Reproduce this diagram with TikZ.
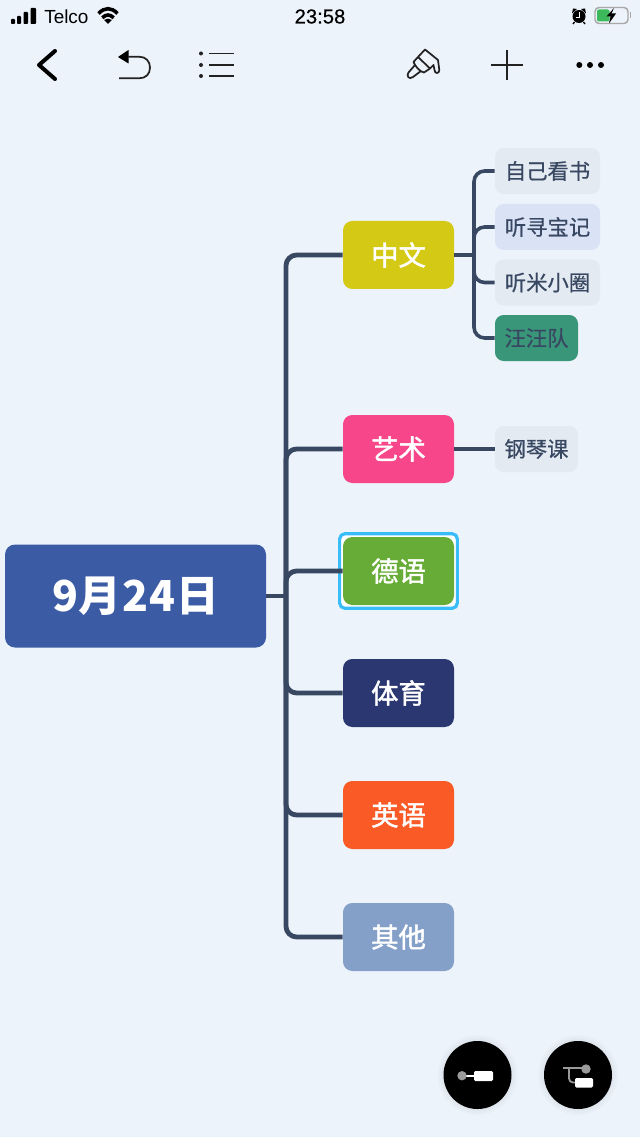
\documentclass[tikz,border=0pt]{standalone}
\usepackage{fontspec}
\setmainfont{Liberation Sans}
\newfontfamily\cjk{Noto Sans CJK SC}
\newfontfamily\cjkroot[LetterSpace=2]{Noto Sans CJK SC}
\newfontfamily\cjkmid[FakeBold=1.6]{Noto Sans CJK SC}
\newfontfamily\cjksub[FakeBold=0.6]{Noto Sans CJK SC}
\newfontfamily\timefont[FakeBold=0.4]{Liberation Sans}
\definecolor{bgc}{HTML}{EDF3FA}
\definecolor{linec}{HTML}{384862}
\definecolor{rootc}{HTML}{3B5BA5}
\definecolor{cnc}{HTML}{D4C914}
\definecolor{artc}{HTML}{F7478A}
\definecolor{dec}{HTML}{68AC38}
\definecolor{pec}{HTML}{2B3770}
\definecolor{enc}{HTML}{FA5A25}
\definecolor{otc}{HTML}{84A0C9}
\definecolor{subc}{HTML}{E4EAF1}
\definecolor{subb}{HTML}{DAE2F6}
\definecolor{teamc}{HTML}{3A9678}
\definecolor{selc}{HTML}{38BDF8}
\definecolor{iconc}{HTML}{222222}
\definecolor{btng}{HTML}{9A9A9A}
\definecolor{batg}{HTML}{3CB95A}
\definecolor{bato}{HTML}{A8A8A8}
\tikzset{
  px/.style={x=0.75pt,y=-0.75pt},
  rootbox/.style={rectangle,rounded corners=7.5pt,fill=rootc,text=white,minimum width=195.75pt,minimum height=77.25pt,inner sep=0pt,font=\cjkroot\bfseries\fontsize{32}{36}\selectfont},
  mainbox/.style={rectangle,rounded corners=7pt,text=white,minimum width=83.25pt,minimum height=51pt,inner sep=0pt,font=\cjkmid\fontsize{20.5}{24}\selectfont},
  subbox/.style={rectangle,rounded corners=6.5pt,fill=subc,text=linec,minimum height=34.5pt,inner sep=0pt,font=\cjksub\fontsize{16}{20}\selectfont},
  wide/.style={minimum width=78.75pt},
  narrow/.style={minimum width=62.25pt},
  selbox/.style={rectangle,rounded corners=4pt,draw=selc,line width=2.4pt,fill=white,minimum width=88.3pt,minimum height=56pt,inner sep=0pt},
  trunk/.style={draw=linec,line width=3.6pt,rounded corners=8pt},
  branch/.style={draw=linec,line width=2.7pt,rounded corners=8pt},
  iconline/.style={draw=iconc,line width=1.3pt},
  btn/.style={circle,fill=black,minimum size=51pt,inner sep=0pt},
  halo/.style={fill=black,fill opacity=0.015}
}
\begin{document}
\begin{tikzpicture}[px]
\useasboundingbox (0,0) rectangle (640,1137);
\fill[bgc] (0,0) rectangle (640,1137);

% status bar
\fill[black,rounded corners=0.6pt] (11,19) rectangle (15,24);
\fill[black,rounded corners=0.6pt] (17,16) rectangle (21,24);
\fill[black,rounded corners=0.6pt] (23.5,12) rectangle (28,24);
\fill[black,rounded corners=0.6pt] (30.5,8) rectangle (36,24);
\node[anchor=west,inner sep=0pt,font=\fontsize{14.2}{16}\selectfont,text=black] (telco) at (44,17) {Telco};
\draw[black,line width=2.7pt] (98.5,13.5) .. controls (104.8,7.1) and (111.2,7.1) .. (117.5,13.5);
\draw[black,line width=2.7pt] (102.3,17.8) .. controls (106.1,14.1) and (109.9,14.1) .. (113.7,17.8);
\fill[black] (108,24) -- (104,20) .. controls (106.5,18.2) and (109.5,18.2) .. (112,20) -- cycle;
\node[inner sep=0pt,font=\timefont\fontsize{15.2}{17}\selectfont,text=black] (clock) at (320,16.5) {23:58};

% alarm
\fill[black] (579,16.5) circle[radius=6.5];
\fill[black] (573,8.5) -- (577,9) -- (572,13.5) -- cycle;
\fill[black] (585,8.5) -- (581,9) -- (586,13.5) -- cycle;
\draw[black,line width=1pt] (574.5,22) -- (573,24);
\draw[black,line width=1pt] (583.5,22) -- (585,24);
\draw[white,line width=0.7pt] (579,12.5) -- (579,17) -- (575.5,17);

% battery
\draw[draw=bato,line width=1.1pt,rounded corners=3pt] (595,7.5) rectangle (628,23.5);
\fill[batg,rounded corners=1.5pt] (597,9.5) rectangle (609.5,21.5);
\fill[bato] (629.5,12.5) rectangle (631,18.5);
\fill[black] (614,8) -- (606.5,16.5) -- (610.5,16.5) -- (609,23.5) -- (616,13.5) -- (611.5,13.5) -- cycle;

% toolbar
\draw[black,line width=3pt,line cap=round,line join=round] (55,51) -- (39,65) -- (55,79);
\fill[black] (118,57) -- (128.5,50) -- (128.5,63.5) -- cycle;
\draw[iconc,line width=1.3pt] (128,56.7) -- (139,56.7) .. controls (146,56.7) and (150,61.5) .. (150,67.5) .. controls (150,74) and (146,78.3) .. (139,78.3) -- (119,78.3);
\foreach \yy in {53.5,65,76}{
  \fill[iconc] (201,\yy) circle[radius=2];
  \draw[iconline] (209,\yy) -- (234,\yy);
}
% paint brush
\draw[iconline,line join=round] (425,49.5) -- (438,60) -- (439.3,70) .. controls (439.5,74) and (434.5,74) .. (434.5,70) -- (433.5,65) -- (430,68.5) -- (418,57) -- cycle;
\draw[iconline,line join=round] (418,57) -- (413.5,62) .. controls (415,66) and (420,72) .. (424,72.5) -- (430,68.5);
\draw[iconline,line join=round] (415,65) -- (408.5,72.5) .. controls (406,76) and (409,80) .. (413,77) -- (421,71);
\draw[iconline] (491,65) -- (523,65);
\draw[iconline] (507,50) -- (507,80);
\foreach \xx in {579.3,590,601}{\fill[black] (\xx,65) circle[radius=3];}

% selection frame (under its node)
\node[selbox] (sel) at (398.5,571) {};

% topic nodes
\node[rootbox] (root) at (135.5,596) {9月24日};
\node[mainbox,fill=cnc] (zw) at (398.5,255) {中文};
\node[mainbox,fill=artc] (ys) at (398.5,449) {艺术};
\node[mainbox,fill=dec] (dy) at (398.5,571) {德语};
\node[mainbox,fill=pec] (ty) at (398.5,693) {体育};
\node[mainbox,fill=enc] (yy) at (398.5,815) {英语};
\node[mainbox,fill=otc] (qt) at (398.5,937) {其他};
\node[subbox,wide] (zj) at (547.5,171) {自己看书};
\node[subbox,wide,fill=subb] (xb) at (547.5,227) {听寻宝记};
\node[subbox,wide] (xm) at (547.5,282.5) {听米小圈};
\node[subbox,narrow,fill=teamc] (ww) at (536.5,338) {汪汪队};
\node[subbox,narrow] (gq) at (536.5,449) {钢琴课};

% connectors
\coordinate (hubA) at (286,596);
\coordinate (hubB) at (474,255);
\draw[trunk] (root.east) -- (hubA);
\foreach \n in {zw,ys,dy,ty,yy,qt}{\draw[trunk] (hubA) |- (\n.west);}
\draw[branch] (zw.east) -- (hubB);
\foreach \n in {zj,xb,xm,ww}{\draw[branch] (hubB) |- (\n.west);}
\draw[branch] (ys.east) -- (gq.west);

% floating buttons
\foreach \r in {40,38,36}{
  \fill[halo] (477.5,1075) circle[radius=\r];
  \fill[halo] (578,1075) circle[radius=\r];
}
\node[btn] (b1) at (477.5,1075) {};
\node[btn] (b2) at (578,1075) {};
\draw[white,line width=1.2pt] (466,1075.7) -- (476,1075.7);
\fill[btng] (462,1075.7) circle[radius=4.7];
\fill[white,rounded corners=1pt] (474,1071) rectangle (493,1081);
\draw[btng,line width=1.3pt] (563,1068) -- (583,1068);
\draw[btng,line width=1.3pt,rounded corners=3pt] (569,1068) -- (569,1082.5) -- (577,1082.5);
\fill[btng] (586,1069) circle[radius=4.7];
\fill[white,rounded corners=1pt] (575,1078) rectangle (593,1087.5);
\end{tikzpicture}
\end{document}
